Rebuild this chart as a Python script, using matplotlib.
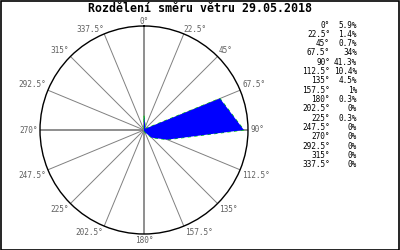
import numpy as np
import matplotlib
matplotlib.use("Agg")
import matplotlib.pyplot as plt
from matplotlib.patches import Rectangle

# wind direction distribution for the day
title = "Rozdělení směru větru 29.05.2018"
directions = [0, 22.5, 45, 67.5, 90, 112.5, 135, 157.5,
              180, 202.5, 225, 247.5, 270, 292.5, 315, 337.5]
shares = [5.9, 1.4, 0.7, 34, 41.3, 10.4, 4.5, 1,
          0.3, 0, 0.3, 0, 0, 0, 0, 0]

mono = "DejaVu Sans Mono"
rmax = 43

fig = plt.figure(figsize=(4, 2.5), dpi=100)
fig.patch.set_facecolor("white")
fig.patches.append(Rectangle((0.002, 0.002), 0.995, 0.995, transform=fig.transFigure,
                             fill=False, edgecolor="black", lw=1.2))

ax = fig.add_axes([0.1, 0.064, 0.52, 0.832], projection="polar")
ax.set_theta_zero_location("N")
ax.set_theta_direction(-1)
ax.set_ylim(0, rmax)
ax.set_xticks([])
ax.set_yticks([])
ax.grid(False)
ax.spines["polar"].set_color("black")
ax.spines["polar"].set_linewidth(1.0)

# spokes
for d in directions:
    th = np.deg2rad(d)
    if d % 90 == 0:
        ax.plot([th, th], [0, rmax], color="#707070", lw=1.1, zorder=1)
    else:
        ax.plot([th, th], [0, rmax], color="#808080", lw=0.7, zorder=1)

# rose polygon
theta = np.deg2rad(directions + [directions[0]])
vals = shares + [shares[0]]
ax.plot(theta, vals, color="#00dd00", lw=0.8, ls=(0, (3, 3)), zorder=2)
ax.fill(theta, vals, color="#0000ff", lw=0, zorder=3)

# direction labels around the circle
for d in directions:
    th = np.deg2rad(d)
    s, c = np.sin(th), np.cos(th)
    if abs(s) < 0.01:
        ha = "center"
    elif s > 0:
        ha = "left"
    else:
        ha = "right"
    if abs(c) < 0.01:
        va = "center"
    elif c > 0:
        va = "bottom"
    else:
        va = "top"
    r = rmax * (1.0 if c > 0.9 else 1.02)
    ax.text(th, r, f"{d:g}°", ha=ha, va=va, fontsize=5.6,
            family=mono, color="#606060", clip_on=False)

# table on the right
for i, (d, v) in enumerate(zip(directions, shares)):
    y = 1 - (25 + i * 9.33) / 250
    fig.text(330 / 400, y, f"{d:g}°", ha="right", va="center",
             fontsize=5.6, family=mono, color="black")
    fig.text(357 / 400, y, f"{v:g}%", ha="right", va="center",
             fontsize=5.6, family=mono, color="black")

fig.text(0.5, 1 - 9 / 250, title, ha="center", va="center",
         fontsize=8.4, family=mono, weight="bold")

fig.savefig("out.png", dpi=100)
